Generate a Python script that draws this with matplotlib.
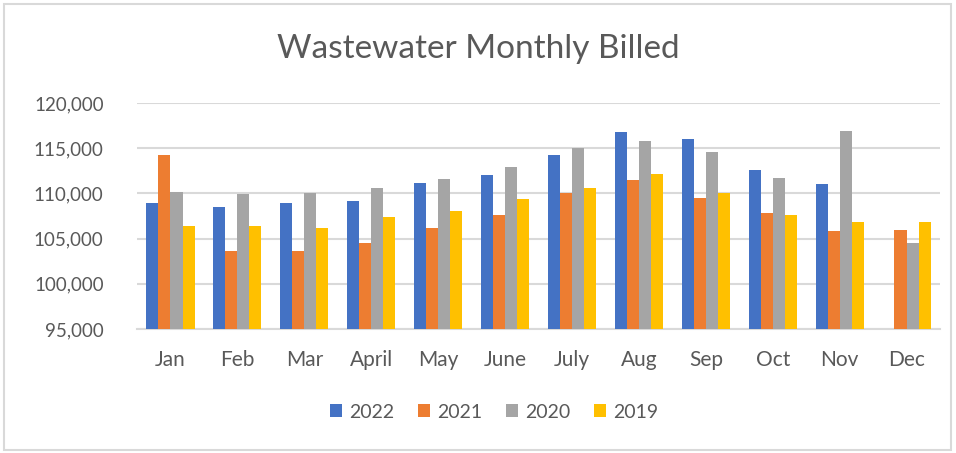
import matplotlib
matplotlib.use("Agg")
import matplotlib.pyplot as plt
import numpy as np
from matplotlib.patches import Rectangle

months = ["Jan", "Feb", "Mar", "April", "May", "June", "July", "Aug", "Sep", "Oct", "Nov", "Dec"]
s2022 = [108900, 108450, 108900, 109200, 111200, 112050, 114200, 116750, 116050, 112600, 111050, np.nan]
s2021 = [114200, 103650, 103650, 104500, 106200, 107650, 110050, 111450, 109450, 107800, 105800, 105900]
s2020 = [110200, 109900, 110000, 110600, 111600, 112900, 115050, 115750, 114600, 111750, 116900, 104500]
s2019 = [106350, 106350, 106200, 107350, 108050, 109350, 110600, 112200, 110000, 107650, 106800, 106800]
series_names = ["2022", "2021", "2020", "2019"]
colors = ["#4472C4", "#ED7D31", "#A5A5A5", "#FFC000"]

plt.rcParams['font.family'] = ['Lato', 'DejaVu Sans']

fig = plt.figure(figsize=(9.56, 4.53), dpi=100)
fig.patches.append(Rectangle((0.004, 0.006), 0.991, 0.986, transform=fig.transFigure,
                             fill=False, edgecolor="#d9d9d9", linewidth=1.5))
ax = fig.add_axes([137/956, 1-329/453, (940-137)/956, (329-103)/453])

x = np.arange(len(months))
w = 0.18
data = [s2022, s2021, s2020, s2019]
for i, (vals, name, c) in enumerate(zip(data, series_names, colors)):
    ax.bar(x + (i - 1.5) * w, vals, width=w, color=c, label=name, zorder=3)

ax.set_ylim(95000, 120000)
ax.set_xlim(-0.5, len(months) - 0.5)
ax.set_yticks(np.arange(95000, 120001, 5000))
ax.yaxis.set_major_formatter(matplotlib.ticker.FuncFormatter(lambda v, p: f"{int(v):,}"))
ax.set_xticks(x)
ax.set_xticklabels(months)
ax.grid(axis="y", color="#d9d9d9", linewidth=1.5, zorder=0)
for s in ["top", "right", "left"]:
    ax.spines[s].set_visible(False)
ax.spines["bottom"].set_color("#d9d9d9")
ax.spines["bottom"].set_linewidth(1.5)
ax.tick_params(axis="both", length=0, colors="#595959")
ax.tick_params(axis="y", labelsize=13.5, pad=24)
ax.tick_params(axis="x", labelsize=15, pad=15)

fig.text(0.5, 1-49/453, "Wastewater Monthly Billed", ha="center", va="center",
         fontsize=24, color="#595959")

handles, labels = ax.get_legend_handles_labels()
fig.legend(handles, labels, loc="center", bbox_to_anchor=(494/956, 1-412/453), ncol=4,
           frameon=False, fontsize=14, labelcolor="#595959", handlelength=0.65, handleheight=0.65,
           handletextpad=0.35, columnspacing=1.2)

fig.savefig("out.png", dpi=100)
